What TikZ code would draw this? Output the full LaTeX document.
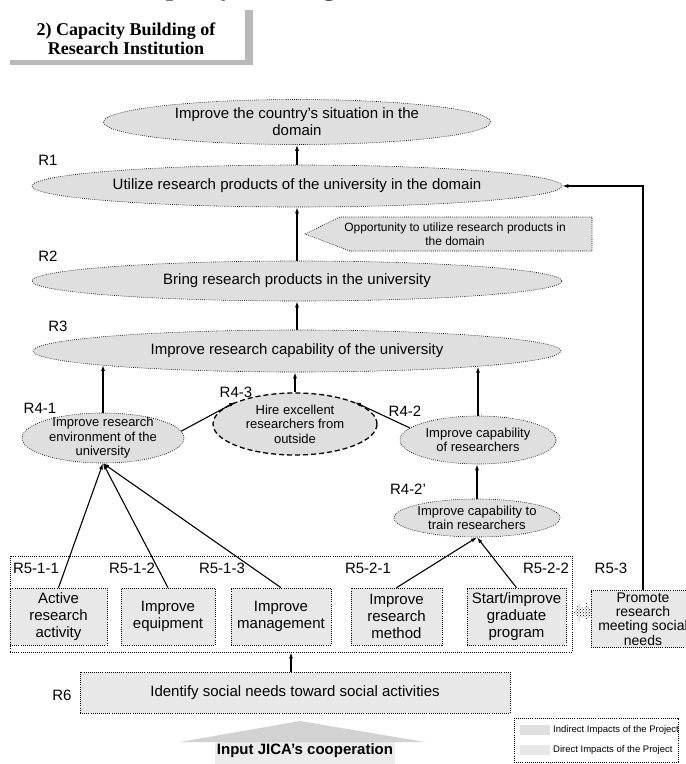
\documentclass[tikz,border=0pt]{standalone}
\usepackage{fontspec}
\setmainfont{Liberation Sans}
\newfontfamily\titleserif{Liberation Serif}
\usetikzlibrary{shapes.geometric,arrows.meta,patterns}

\tikzset{
  arr/.style={-{Latex[length=6pt,width=4pt]}, line width=1.1pt},
  dotline/.style={draw=black, dash pattern=on 0.8pt off 1.3pt, line width=0.6pt},
  ell/.style={ellipse, dotline, fill=gray!25, inner sep=0pt},
  bx/.style={rectangle, dotline, fill=gray!18, inner sep=0pt, minimum height=57pt},
  lbl/.style={font=\fontsize{15}{17}\selectfont, inner sep=0pt},
  big/.style={font=\fontsize{15}{17}\selectfont, align=center, inner sep=0pt},
  boxtxt/.style={font=\fontsize{15}{17}\selectfont, align=center, inner sep=0pt},
  small/.style={font=\fontsize{13}{14.5}\selectfont, align=center, inner sep=0pt},
}

\begin{document}
\begin{tikzpicture}[x=1pt,y=-1pt]
\useasboundingbox (0,0) rectangle (686,764);
\clip (0,0) rectangle (686,764);
\fill[white] (0,0) rectangle (686,764);

% heading of the page, cut by the top edge
\node[anchor=base, inner sep=0pt, font=\titleserif\bfseries\fontsize{26}{28}\selectfont] (head) at (235,-4.5) {Capacity Building};

% section title with its shaded frame
\fill[gray!55] (10,60) rectangle (250,65);
\fill[gray!55] (245,10) rectangle (253,65);
\node[align=center, inner sep=0pt, font=\titleserif\bfseries\fontsize{18}{19.5}\selectfont] (title) at (126,39) {2) Capacity Building of\\Research Institution};

% upper chain of results
\node[ell, minimum width=387pt, minimum height=45pt] (E0) at (297,122) {};
\node[big] (tE0) at (E0) {Improve the country's situation in the\\domain};

\node[ell, minimum width=530pt, minimum height=42pt] (E1) at (297,186) {};
\node[big] (tE1) at (E1) {Utilize research products of the university in the domain};
\node[lbl] (R1) at (48,160) {R1};

\draw[dotline, fill=gray!25] (305,234) -- (340,217) -- (592,217) -- (592,251) -- (350,251) -- cycle;
\node[align=center, inner sep=0pt, font=\fontsize{12}{14}\selectfont] (tOpp) at (455,234) {Opportunity to utilize research products in\\the domain};

\node[ell, minimum width=530pt, minimum height=40pt] (E2) at (297,281) {};
\node[big] (tE2) at (E2) {Bring research products in the university};
\node[lbl] (R2) at (48,256) {R2};

\node[ell, minimum width=528pt, minimum height=42pt] (E3) at (297,351) {};
\node[big] (tE3) at (E3) {Improve research capability of the university};
\node[lbl] (R3) at (58,326) {R3};

% intermediate results
\node[ell, minimum width=162pt, minimum height=50pt] (E41) at (103,438) {};
\node[small] (tE41) at (E41) {Improve research\\environment of the\\university};
\node[lbl] (R41) at (40,408) {R4-1};

\node[ellipse, draw=black, dash pattern=on 5pt off 3pt, line width=1.3pt, fill=gray!25, inner sep=0pt,
      minimum width=164pt, minimum height=62pt] (E43) at (295,424) {};
\node[small] (tE43) at (E43) {Hire excellent\\researchers from\\outside};
\node[lbl] (R43) at (236,392) {R4-3};

\node[ell, minimum width=156pt, minimum height=48pt] (E42) at (478,440) {};
\node[small] (tE42) at (E42) {Improve capability\\of researchers};
\node[lbl] (R42) at (405,411) {R4-2};

\node[ell, minimum width=166pt, minimum height=38pt] (E422) at (477,518) {};
\node[small] (tE422) at (E422) {Improve capability to\\train researchers};
\node[lbl] (R422) at (408,489) {R4-2’};

% direct outputs
\node[draw=black, dash pattern=on 0.8pt off 1.3pt, line width=0.7pt, inner sep=0pt,
      minimum width=562pt, minimum height=96pt] (grp) at (291,604) {};

\node[bx, minimum width=97pt] (B1) at (58.5,616.5) {};
\node[boxtxt] (tB1) at (B1) {Active\\research\\activity};
\node[bx, minimum width=94pt] (B2) at (168,616.5) {};
\node[boxtxt] (tB2) at (B2) {Improve\\equipment};
\node[bx, minimum width=100pt] (B3) at (281,616.5) {};
\node[boxtxt] (tB3) at (B3) {Improve\\management};
\node[bx, minimum width=91pt] (B4) at (396.5,616.5) {};
\node[boxtxt] (tB4) at (B4) {Improve\\research\\method};
\node[bx, minimum width=99pt] (B5) at (516.5,616.5) {};
\node[boxtxt] (tB5) at (B5) {Start/improve\\graduate\\program};
\node[bx, minimum width=104pt] (B6) at (643,619) {};
\node[font=\fontsize{14}{14.2}\selectfont, align=center, inner sep=0pt] (tB6) at (B6) {Promote\\research\\meeting social\\needs};

\node[lbl] (R511) at (36,568) {R5-1-1};
\node[lbl] (R512) at (132,568) {R5-1-2};
\node[lbl] (R513) at (222,568) {R5-1-3};
\node[lbl] (R521) at (368,568) {R5-2-1};
\node[lbl] (R522) at (546,568) {R5-2-2};
\node[lbl] (R53) at (611,568) {R5-3};

% two-way link between the graduate program and R5-3
\fill[pattern=crosshatch dots, pattern color=black]
  (574,612) -- (580,602) -- (580,607) -- (586,607) -- (586,602) -- (592,612)
  -- (586,622) -- (586,617) -- (580,617) -- (580,622) -- cycle;

% social needs and input
\node[bx, fill=gray!18, minimum width=430pt, minimum height=41pt] (R6box) at (295,692.5) {};
\node[big] (tR6) at (R6box) {Identify social needs toward social activities};
\node[lbl] (R6) at (62,695) {R6};

\fill[gray!15] (215,742) rectangle (395,764);
\fill[gray!35] (180,742) -- (300,721) -- (425,742) -- cycle;
\node[inner sep=0pt, font=\bfseries\fontsize{15}{17}\selectfont] (jica) at (305,751) {Input JICA's cooperation};

% legend
\node[draw=black, dash pattern=on 0.8pt off 1.3pt, line width=0.7pt, inner sep=0pt,
      minimum width=164pt, minimum height=44pt] (leg) at (596,740) {};
\node[fill=gray!25, inner sep=0pt, minimum width=30pt, minimum height=10pt] (sw1) at (535,730) {};
\node[fill=gray!18, inner sep=0pt, minimum width=30pt, minimum height=10pt] (sw2) at (535,750) {};
\node[anchor=west, inner sep=0pt, font=\fontsize{9.5}{11}\selectfont] (lg1) at (553,730) {Indirect Impacts of the Project};
\node[anchor=west, inner sep=0pt, font=\fontsize{9.5}{11}\selectfont] (lg2) at (553,750) {Direct Impacts of the Project};

% connectors
\draw[arr] (E1.north) -- (E0.south);
\draw[arr] (E2.north) -- (E1.south);
\draw[arr] (E3.north) -- (E2.south);
\draw[arr] (E43.north) -- (E43.north |- E3.south);
\draw[arr] (E41.north) -- (E41.north |- E3.184);
\draw[arr] (E42.north) -- (E42.north |- E3.355);
\draw[arr] (E41.5) -- (E43.160);
\draw[arr] (E42.170) -- (E43.20);
\draw[arr] (E422.north) -- (E422.north |- E42.south);
\draw[arr] (B1.north) -- (E41.south);
\draw[arr] (B2.north) -- (E41.south);
\draw[arr] (B3.north) -- (E41.south);
\draw[arr] (B4.north) -- (E422.south);
\draw[arr] (B5.north) -- (E422.south);
\draw[arr] (B6.north) |- (E1.east);
\draw[arr] (R6box.north -| grp.south) -- (grp.south);
\end{tikzpicture}
\end{document}
